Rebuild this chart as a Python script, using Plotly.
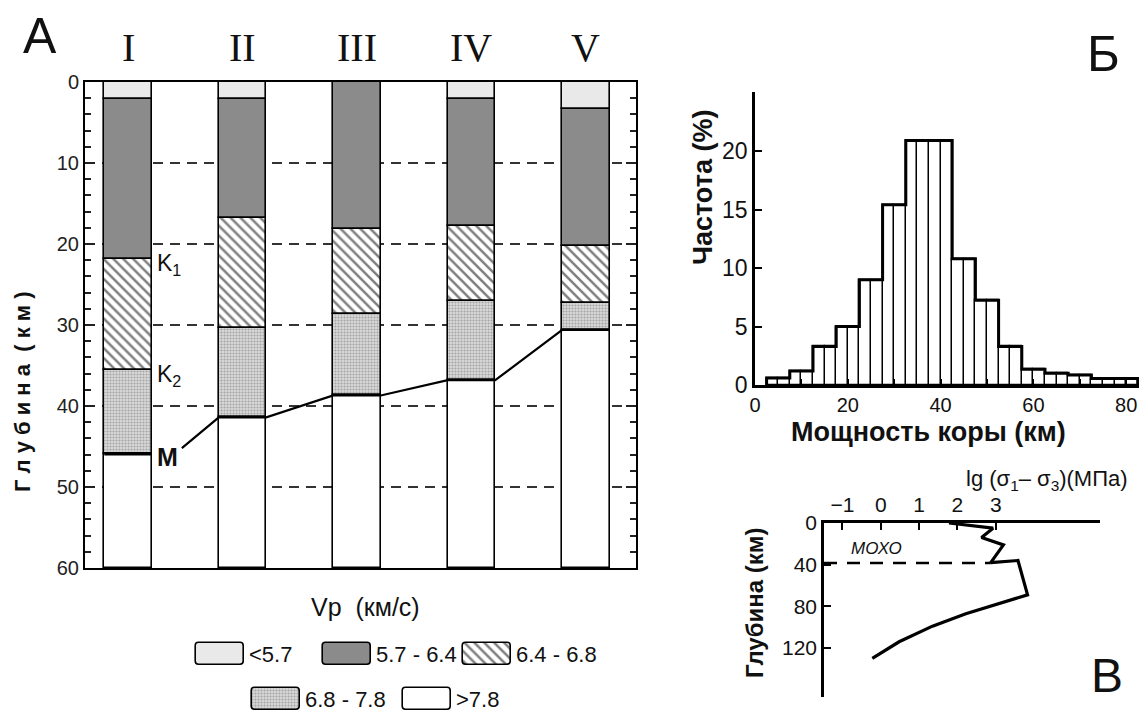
import plotly.graph_objects as go

W, H = 1147, 711
OFF = 8  # the page body adds an 8px margin before the figure

# ---------------- Panel A data (depth in km) ----------------
columns = ["I", "II", "III", "IV", "V"]
layer_names = ["<5.7", "5.7 - 6.4", "6.4 - 6.8", "6.8 - 7.8", ">7.8"]
bottom_lt57 = [2.05, 2.05, 0.0, 2.05, 3.3]
bottom_57_64 = [21.8, 16.8, 18.1, 17.8, 20.3]
bottom_64_68 = [35.5, 30.4, 28.6, 27.0, 27.3]
moho_depth = [45.9, 41.4, 38.7, 36.8, 30.6]
section_bottom = [60, 60, 60, 60, 60]

# ---------------- Panel Б data ----------------
bin_centers = [5, 10, 15, 20, 25, 30, 35, 40, 45, 50, 55, 60, 65, 70, 75, 80]
frequency_pct = [0.6, 1.2, 3.3, 5.0, 9.0, 15.4, 20.9, 20.9, 10.8, 7.25, 3.3, 1.35, 1.0, 0.85, 0.55, 0.55]
bin_width = 5

# ---------------- Panel В data ----------------
lg_stress = [1.78, 2.93, 2.63, 3.2, 2.87, 3.58, 3.83, 3.09, 2.22, 1.35, 0.48, -0.22]
stress_depth = [0, 5, 14, 21, 38, 36, 69, 77, 87, 99, 114, 130]
moho_B_depth = 38.5
moho_B_end = 2.87

# ---------------- styles ----------------
SANS = "Liberation Sans, Arial, sans-serif"
NARROW = "Liberation Sans Narrow, Arial Narrow, Liberation Sans, Arial, sans-serif"
SERIF = "Liberation Serif, Times New Roman, serif"
BAR_W = 0.415
HW = BAR_W / 2

layer_style = [
    dict(color="#e9e9e9", pattern=None),
    dict(color="#8b8b8b", pattern=None),
    dict(color="white", pattern=dict(shape="\\", fgcolor="black", bgcolor="white", size=7, solidity=0.36)),
    dict(color="#cfcfcf", pattern=dict(shape=".", fgcolor="#707070", bgcolor="#d9d9d9", size=3, solidity=0.4)),
    dict(color="white", pattern=None),
]


def px(x):
    return (x - OFF) / W


def py(y):
    return 1 - (y - OFF) / H


fig = go.Figure()

xs = list(range(1, len(columns) + 1))
tops = [[0] * 5, bottom_lt57, bottom_57_64, bottom_64_68, moho_depth]
bottoms = [bottom_lt57, bottom_57_64, bottom_64_68, moho_depth, section_bottom]

for k in range(5):
    st = layer_style[k]
    marker = dict(color=st["color"], line=dict(color="black", width=1.6))
    if st["pattern"]:
        marker["pattern"] = st["pattern"]
    fig.add_trace(go.Bar(
        x=xs, base=tops[k], y=[b - t for t, b in zip(tops[k], bottoms[k])],
        width=BAR_W, marker=marker, xaxis="x", yaxis="y", showlegend=False,
        hoverinfo="skip"))

# Moho line connecting columns
mx = [1.47]
my = [45.2]
for i in range(1, 5):
    mx += [xs[i] - HW, xs[i] + HW]
    my += [moho_depth[i], moho_depth[i]]
fig.add_trace(go.Scatter(x=mx, y=my, mode="lines", line=dict(color="black", width=2.2),
                         xaxis="x", yaxis="y", showlegend=False, hoverinfo="skip"))
fig.add_trace(go.Scatter(x=[xs[0] - HW, xs[0] + HW], y=[moho_depth[0], moho_depth[0]], mode="lines",
                         line=dict(color="black", width=3.5),
                         xaxis="x", yaxis="y", showlegend=False, hoverinfo="skip"))

# ---------------- Histogram ----------------
half_x, half_y = [], []
for c, v in zip(bin_centers, frequency_pct):
    half_x += [c - bin_width / 4, c + bin_width / 4]
    half_y += [v, v]
fig.add_trace(go.Bar(x=half_x, y=half_y, width=bin_width / 2,
                     marker=dict(color="white", line=dict(color="black", width=1.3)),
                     xaxis="x2", yaxis="y2", showlegend=False, hoverinfo="skip"))
edges = [c - bin_width / 2 for c in bin_centers] + [bin_centers[-1] + bin_width / 2]
step_x = [edges[0]] + edges[:-1] + [edges[-1]]
step_y = [0] + frequency_pct + [0]
fig.add_trace(go.Scatter(x=step_x, y=step_y, mode="lines", line=dict(color="black", width=3, shape="hv"),
                         xaxis="x2", yaxis="y2", showlegend=False, hoverinfo="skip"))

# ---------------- Stress profile ----------------
fig.add_trace(go.Scatter(x=[-1.48, moho_B_end], y=[moho_B_depth, moho_B_depth], mode="lines",
                         line=dict(color="black", width=2.5, dash="13px,10px"),
                         xaxis="x3", yaxis="y3", showlegend=False, hoverinfo="skip"))
fig.add_trace(go.Scatter(x=lg_stress, y=stress_depth, mode="lines",
                         line=dict(color="black", width=3.2),
                         xaxis="x3", yaxis="y3", showlegend=False, hoverinfo="skip"))

# ---------------- Custom legend (layout positions, page pixels) ----------------
LEGEND_SLOTS = [(196, 654), (323, 654), (463, 654), (252, 699), (403, 699)]
BOX_W, BOX_H = 48, 22
for k, (lx, ly) in enumerate(LEGEND_SLOTS):
    st = layer_style[k]
    marker = dict(color=st["color"], line=dict(color="black", width=1.6), cornerradius=4)
    if st["pattern"]:
        marker["pattern"] = st["pattern"]
    fig.add_trace(go.Bar(x=[lx + BOX_W / 2], base=[ly - BOX_H / 2], y=[BOX_H], width=[BOX_W],
                         marker=marker, xaxis="x4", yaxis="y4", showlegend=False, hoverinfo="skip"))


def ann(x, y, text, size, xref="paper", yref="paper", family=SANS, xanchor="center",
        yanchor="middle", angle=0):
    return dict(x=x, y=y, xref=xref, yref=yref, text=text, showarrow=False,
                xanchor=xanchor, yanchor=yanchor, textangle=angle,
                font=dict(family=family, size=size, color="#111"))


annotations = []
for k, (lx, ly) in enumerate(LEGEND_SLOTS):
    annotations.append(ann(lx + BOX_W + 3, ly, layer_names[k], 22, "x4", "y4", xanchor="left"))

# column labels
for i, c in enumerate(columns):
    annotations.append(ann(xs[i], py(47), c, 40, "x", "paper", family=SERIF))

# boundary labels
annotations += [
    ann(xs[0] + HW + 0.03, bottom_57_64[0] + 0.7, "K<sub>1</sub>", 23, "x", "y", xanchor="left"),
    ann(xs[0] + HW + 0.03, bottom_64_68[0] + 0.7, "K<sub>2</sub>", 23, "x", "y", xanchor="left"),
    ann(xs[0] + HW + 0.03, moho_depth[0] + 0.4, "<b>M</b>", 25, "x", "y", xanchor="left"),
]

# titles and panel letters
annotations += [
    ann(px(40), py(36), "A", 50),
    ann(px(1103), py(54), "Б", 50),
    ann(px(1107), py(675), "В", 48),
    ann(px(23), py(392), "<b>Г л у б и н а  ( к м )</b>", 22, angle=-90),
    ann(px(365), py(607), "Vp  (км/с)", 25),
    ann(px(703), py(188), "<b>Частота (%)</b>", 27, angle=-90),
    ann(px(928), py(432), "<b>Мощность коры (км)</b>", 27),
    ann(px(754), py(603), "<b>Глубина (км)</b>", 24, angle=-90),
    ann(px(1047), py(480), "lg (σ<sub>1</sub>– σ<sub>3</sub>)(МПа)", 22),
    ann(-0.12, 24, "<i>МОХО</i>", 17, "x3", "y3"),
]

fig.update_layout(
    width=W, height=H, margin=dict(l=0, r=0, t=0, b=0, autoexpand=False),
    paper_bgcolor="white", plot_bgcolor="rgba(0,0,0,0)",
    barmode="overlay", bargap=0, showlegend=False,
    annotations=annotations,
    xaxis=dict(domain=[px(85), px(636)], range=[0.624, 5.437], anchor="y",
               showticklabels=False, ticks="", showgrid=False, zeroline=False,
               showline=True, linecolor="black", linewidth=2, mirror=True, fixedrange=True),
    yaxis=dict(domain=[py(568), py(82)], range=[60, 0], anchor="x",
               tickvals=[0, 10, 20, 30, 40, 50, 60], ticks="inside", ticklen=10, tickwidth=2,
               tickcolor="#222",
               minor=dict(dtick=2, ticks="inside", ticklen=6, tickwidth=1.6, tickcolor="#222", showgrid=False),
               showgrid=True, gridcolor="#333", gridwidth=2, griddash="10px,7px",
               zeroline=False, showline=True, linecolor="black", linewidth=2, mirror="allticks",
               tickfont=dict(family=SANS, size=20, color="#222"), fixedrange=True),
    xaxis2=dict(domain=[px(755), 1.0], range=[0, (W + OFF - 755) / 4.64], anchor="y2",
                tickvals=[0, 20, 40, 60, 80], ticks="inside", ticklen=6, tickwidth=2, tickcolor="black",
                minor=dict(tickvals=[10, 30, 50, 70], ticks="inside", ticklen=6, tickwidth=2, tickcolor="black"),
                showgrid=False, zeroline=False, showline=True, linecolor="black", linewidth=2.5,
                tickfont=dict(family=NARROW, size=20, color="#111"), fixedrange=True),
    yaxis2=dict(domain=[py(385), py(92)], range=[0, 25.05], anchor="x2",
                tickvals=[0, 5, 10, 15, 20], ticks="inside", ticklen=7, tickwidth=2, tickcolor="black",
                showgrid=False, zeroline=False, showline=True, linecolor="black", linewidth=2.5,
                tickfont=dict(family=NARROW, size=23, color="#111"), fixedrange=True),
    xaxis3=dict(domain=[px(824), px(1100)], range=[-1.48, 5.72], anchor="y3", side="top",
                tickvals=[-1, 0, 1, 2, 3], ticks="inside", ticklen=7, tickwidth=2, tickcolor="black",
                showgrid=False, zeroline=False, showline=True, linecolor="black", linewidth=2.5,
                tickfont=dict(family=NARROW, size=21, color="#111"), fixedrange=True),
    yaxis3=dict(domain=[py(697), py(523)], range=[167, 0], anchor="x3",
                tickvals=[0, 40, 80, 120], ticks="inside", ticklen=7, tickwidth=2, tickcolor="black",
                showgrid=False, zeroline=False, showline=True, linecolor="black", linewidth=2.5,
                tickfont=dict(family=NARROW, size=21, color="#111"), fixedrange=True),
    xaxis4=dict(domain=[0, 1], range=[OFF, W + OFF], anchor="y4", visible=False, fixedrange=True),
    yaxis4=dict(domain=[0, 1], range=[H + OFF, OFF], anchor="x4", visible=False, fixedrange=True),
)

fig.write_html("out.html")
